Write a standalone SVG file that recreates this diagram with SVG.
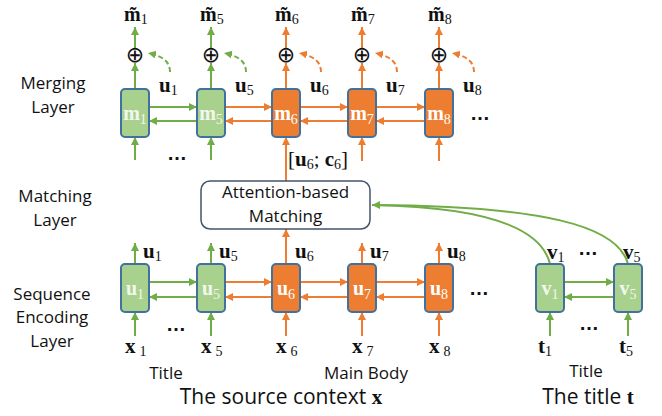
<svg xmlns="http://www.w3.org/2000/svg" width="662" height="416" viewBox="0 0 662 416">
<defs>
<marker id="ag" markerUnits="userSpaceOnUse" markerWidth="9" markerHeight="9" refX="8" refY="4" orient="auto"><path d="M0,0 L8,4 L0,8 z" fill="#70AD47"/></marker>
<marker id="ao" markerUnits="userSpaceOnUse" markerWidth="9" markerHeight="9" refX="8" refY="4" orient="auto"><path d="M0,0 L8,4 L0,8 z" fill="#ED7D31"/></marker>
<style>
.g{stroke:#70AD47;stroke-width:2;fill:none;marker-end:url(#ag)}
.o{stroke:#ED7D31;stroke-width:2;fill:none;marker-end:url(#ao)}
.d{stroke-dasharray:5,3}
.bg{fill:#A9D18E;stroke:#41719C;stroke-width:2}
.bo{fill:#ED7D31;stroke:#41719C;stroke-width:2}
.lab{font-family:"Open Sans","Liberation Sans",sans-serif;font-size:17px;fill:#111;text-anchor:middle}
.big{font-family:"Open Sans","Liberation Sans",sans-serif;font-size:21px;fill:#111;text-anchor:middle}
.m{font-family:"Liberation Serif","DejaVu Serif",serif;font-size:21px;font-weight:bold;fill:#111}
.mt{font-family:"Liberation Serif","DejaVu Serif",serif;font-size:20px;font-weight:bold;fill:#111}
.in{font-family:"Liberation Serif","DejaVu Serif",serif;font-size:20px;font-weight:bold;text-anchor:middle}
.sub{font-size:14px;font-weight:normal}
.op{font-family:"DejaVu Sans",sans-serif;font-size:22px;fill:#111;text-anchor:middle}
.dots{font-family:"Liberation Sans",sans-serif;font-size:20px;font-weight:bold;fill:#111;text-anchor:middle}
</style>
</defs>
<rect width="662" height="416" fill="#fff"/>

<g id="connectors">
<line class="g" x1="135" y1="89" x2="135" y2="63"/>
<line class="g" x1="135" y1="48" x2="135" y2="27"/>
<line class="g" x1="211" y1="89" x2="211" y2="63"/>
<line class="g" x1="211" y1="48" x2="211" y2="27"/>
<line class="o" x1="286" y1="89" x2="286" y2="63"/>
<line class="o" x1="286" y1="48" x2="286" y2="27"/>
<line class="o" x1="362" y1="89" x2="362" y2="63"/>
<line class="o" x1="362" y1="48" x2="362" y2="27"/>
<line class="o" x1="439" y1="89" x2="439" y2="63"/>
<line class="o" x1="439" y1="48" x2="439" y2="27"/>
<path class="g d" d="M170,72 C170,62 163,56 148,53"/>
<path class="g d" d="M246,72 C246,62 239,56 224,53"/>
<path class="o d" d="M321,72 C321,62 314,56 299,53"/>
<path class="o d" d="M397,72 C397,62 390,56 375,53"/>
<path class="o d" d="M474,72 C474,62 467,56 452,53"/>
<line class="g" x1="149" y1="107" x2="197" y2="107"/>
<line class="g" x1="197" y1="121" x2="149" y2="121"/>
<line class="o" x1="225" y1="107" x2="272" y2="107"/>
<line class="o" x1="272" y1="121" x2="225" y2="121"/>
<line class="o" x1="300" y1="107" x2="348" y2="107"/>
<line class="o" x1="348" y1="121" x2="300" y2="121"/>
<line class="o" x1="376" y1="107" x2="425" y2="107"/>
<line class="o" x1="425" y1="121" x2="376" y2="121"/>
<line class="g" x1="135" y1="160" x2="135" y2="137"/>
<line class="g" x1="211" y1="160" x2="211" y2="137"/>
<line class="o" x1="286" y1="181" x2="286" y2="137"/>
<line class="o" x1="362" y1="161" x2="362" y2="137"/>
<line class="o" x1="439" y1="161" x2="439" y2="137"/>
<line class="g" x1="135" y1="264" x2="135" y2="243"/>
<line class="g" x1="211" y1="264" x2="211" y2="243"/>
<line class="o" x1="286" y1="264" x2="286" y2="229"/>
<line class="o" x1="362" y1="264" x2="362" y2="243"/>
<line class="o" x1="439" y1="264" x2="439" y2="243"/>
<line class="g" x1="149" y1="282" x2="197" y2="282"/>
<line class="g" x1="197" y1="297" x2="149" y2="297"/>
<line class="o" x1="225" y1="282" x2="272" y2="282"/>
<line class="o" x1="272" y1="297" x2="225" y2="297"/>
<line class="o" x1="300" y1="282" x2="348" y2="282"/>
<line class="o" x1="348" y1="297" x2="300" y2="297"/>
<line class="o" x1="376" y1="282" x2="425" y2="282"/>
<line class="o" x1="425" y1="297" x2="376" y2="297"/>
<line class="g" x1="564" y1="282" x2="614" y2="282"/>
<line class="g" x1="614" y1="297" x2="564" y2="297"/>
<line class="g" x1="135" y1="336" x2="135" y2="312"/>
<line class="g" x1="211" y1="336" x2="211" y2="312"/>
<line class="o" x1="286" y1="336" x2="286" y2="312"/>
<line class="o" x1="362" y1="336" x2="362" y2="312"/>
<line class="o" x1="439" y1="336" x2="439" y2="312"/>
<line class="g" x1="550" y1="336" x2="550" y2="312"/>
<line class="g" x1="628" y1="336" x2="628" y2="312"/>
<path d="M550,264 C541,226 482,207 373,205" stroke="#70AD47" stroke-width="2" fill="none"/>
<path class="g" d="M628,264 C618,226 545,206 372,205"/>
</g>

<g id="m1"><rect class="bg" x="121" y="89" width="28" height="48" rx="4"/><text class="in" x="135" y="120" fill="#F2F7EE">m<tspan class="sub" dy="4">1</tspan></text></g>
<g id="m5"><rect class="bg" x="197" y="89" width="28" height="48" rx="4"/><text class="in" x="211" y="120" fill="#F2F7EE">m<tspan class="sub" dy="4">5</tspan></text></g>
<g id="m6"><rect class="bo" x="272" y="89" width="28" height="48" rx="4"/><text class="in" x="286" y="120" fill="#fff">m<tspan class="sub" dy="4">6</tspan></text></g>
<g id="m7"><rect class="bo" x="348" y="89" width="28" height="48" rx="4"/><text class="in" x="362" y="120" fill="#fff">m<tspan class="sub" dy="4">7</tspan></text></g>
<g id="m8"><rect class="bo" x="425" y="89" width="28" height="48" rx="4"/><text class="in" x="439" y="120" fill="#fff">m<tspan class="sub" dy="4">8</tspan></text></g>

<g id="u1"><rect class="bg" x="121" y="264" width="28" height="48" rx="4"/><text class="in" x="135" y="295" fill="#F2F7EE">u<tspan class="sub" dy="4">1</tspan></text></g>
<g id="u5"><rect class="bg" x="197" y="264" width="28" height="48" rx="4"/><text class="in" x="211" y="295" fill="#F2F7EE">u<tspan class="sub" dy="4">5</tspan></text></g>
<g id="u6"><rect class="bo" x="272" y="264" width="28" height="48" rx="4"/><text class="in" x="286" y="295" fill="#fff">u<tspan class="sub" dy="4">6</tspan></text></g>
<g id="u7"><rect class="bo" x="348" y="264" width="28" height="48" rx="4"/><text class="in" x="362" y="295" fill="#fff">u<tspan class="sub" dy="4">7</tspan></text></g>
<g id="u8"><rect class="bo" x="425" y="264" width="28" height="48" rx="4"/><text class="in" x="439" y="295" fill="#fff">u<tspan class="sub" dy="4">8</tspan></text></g>
<g id="v1"><rect class="bg" x="536" y="264" width="28" height="48" rx="4"/><text class="in" x="550" y="295" fill="#F2F7EE">v<tspan class="sub" dy="4">1</tspan></text></g>
<g id="v5"><rect class="bg" x="614" y="264" width="28" height="48" rx="4"/><text class="in" x="628" y="295" fill="#F2F7EE">v<tspan class="sub" dy="4">5</tspan></text></g>

<g id="matching"><rect x="201" y="181" width="169" height="48" rx="9" fill="#fff" stroke="#44546A" stroke-width="1.5"/>
<text class="lab" x="285.5" y="198">Attention-based</text><text class="lab" x="285.5" y="222">Matching</text></g>

<g id="operators">
<text class="op" x="135" y="62">⊕</text><text class="op" x="211" y="62">⊕</text><text class="op" x="286" y="62">⊕</text><text class="op" x="362" y="62">⊕</text><text class="op" x="439" y="62">⊕</text>
</g>

<g id="labels">
<text class="mt" x="124" y="21">m̃<tspan class="sub" dy="3">1</tspan></text>
<text class="mt" x="200" y="21">m̃<tspan class="sub" dy="3">5</tspan></text>
<text class="mt" x="275" y="21">m̃<tspan class="sub" dy="3">6</tspan></text>
<text class="mt" x="351" y="21">m̃<tspan class="sub" dy="3">7</tspan></text>
<text class="mt" x="428" y="21">m̃<tspan class="sub" dy="3">8</tspan></text>
<text class="m" x="159" y="92">u<tspan class="sub" dy="3">1</tspan></text>
<text class="m" x="235" y="92">u<tspan class="sub" dy="3">5</tspan></text>
<text class="m" x="310" y="92">u<tspan class="sub" dy="3">6</tspan></text>
<text class="m" x="386" y="92">u<tspan class="sub" dy="3">7</tspan></text>
<text class="m" x="463" y="92">u<tspan class="sub" dy="3">8</tspan></text>
<text class="m" x="288" y="166"><tspan font-weight="normal">[</tspan>u<tspan class="sub" dy="3">6</tspan><tspan dy="-3" font-weight="normal">; </tspan>c<tspan class="sub" dy="3">6</tspan><tspan dy="-3" font-weight="normal">]</tspan></text>
<text class="m" x="143" y="258">u<tspan class="sub" dy="3">1</tspan></text>
<text class="m" x="219" y="258">u<tspan class="sub" dy="3">5</tspan></text>
<text class="m" x="295" y="258">u<tspan class="sub" dy="3">6</tspan></text>
<text class="m" x="370" y="258">u<tspan class="sub" dy="3">7</tspan></text>
<text class="m" x="447" y="258">u<tspan class="sub" dy="3">8</tspan></text>
<text class="m" x="547" y="259">v<tspan class="sub" dy="3">1</tspan></text>
<text class="m" x="623" y="259">v<tspan class="sub" dy="3">5</tspan></text>
<text class="m" x="125" y="353">x<tspan class="sub" dx="4" dy="3">1</tspan></text>
<text class="m" x="201" y="353">x<tspan class="sub" dx="4" dy="3">5</tspan></text>
<text class="m" x="276" y="353">x<tspan class="sub" dx="4" dy="3">6</tspan></text>
<text class="m" x="352" y="353">x<tspan class="sub" dx="4" dy="3">7</tspan></text>
<text class="m" x="429" y="353">x<tspan class="sub" dx="4" dy="3">8</tspan></text>
<text class="m" x="538" y="353">t<tspan class="sub" dy="3">1</tspan></text>
<text class="m" x="619" y="353">t<tspan class="sub" dy="3">5</tspan></text>
<text class="dots" x="177" y="160">…</text>
<text class="dots" x="480" y="120">…</text>
<text class="dots" x="176" y="331">…</text>
<text class="dots" x="479" y="295">…</text>
<text class="dots" x="588" y="255">…</text>
<text class="dots" x="589" y="330">…</text>
<text class="lab" x="53" y="89">Merging</text><text class="lab" x="53" y="113">Layer</text>
<text class="lab" x="55" y="202">Matching</text><text class="lab" x="55" y="226">Layer</text>
<text class="lab" x="52" y="300">Sequence</text><text class="lab" x="52" y="323">Encoding</text><text class="lab" x="52" y="347">Layer</text>
<text class="lab" x="166" y="379">Title</text>
<text class="lab" x="366" y="379">Main Body</text>
<text class="lab" x="586" y="377">Title</text>
<text class="big" x="281" y="404">The source context <tspan font-family="Liberation Serif,serif" font-weight="bold">x</tspan></text>
<text class="big" x="588" y="404">The title <tspan font-family="Liberation Serif,serif" font-weight="bold">t</tspan></text>
</g>
</svg>
